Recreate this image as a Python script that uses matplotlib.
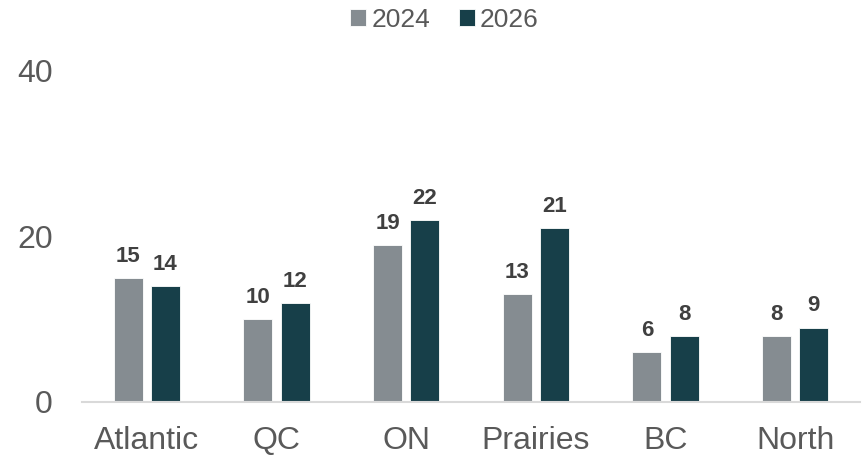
import matplotlib
matplotlib.use("Agg")
import matplotlib.pyplot as plt
import numpy as np

plt.rcParams["font.family"] = ["Liberation Sans", "DejaVu Sans"]

# data
regions = ["Atlantic", "QC", "ON", "Prairies", "BC", "North"]
series_names = ["2024", "2026"]
values_2024 = [15, 10, 19, 13, 6, 8]
values_2026 = [14, 12, 22, 21, 8, 9]

GREY = "#858c91"
TEAL = "#173f49"
TEXT = "#595959"

fig = plt.figure(figsize=(8.63, 4.55), dpi=100)
ax = fig.add_axes([0.095, 0.1165, 0.9015, 0.7275])

x = np.arange(len(regions))
w = 0.224
off = 0.143
b1 = ax.bar(x - off, values_2024, w, color=GREY, edgecolor="white", linewidth=0.6, label=series_names[0])
b2 = ax.bar(x + off, values_2026, w, color=TEAL, edgecolor="white", linewidth=0.6, label=series_names[1])

for bars in (b1, b2):
    ax.bar_label(bars, padding=8, fontsize=16, fontweight="bold", color="#404040")

ax.set_xlim(-0.5, len(regions) - 0.5)
ax.set_ylim(0, 40)
ax.set_yticks([0, 20, 40])
ax.set_xticks(x, regions)
ax.tick_params(axis="y", length=0, pad=21, labelsize=23, labelcolor=TEXT)
ax.tick_params(axis="x", length=0, pad=17, labelsize=23, labelcolor=TEXT)

for s in ("top", "right", "left"):
    ax.spines[s].set_visible(False)
ax.spines["bottom"].set_color("#d9d9d9")
ax.spines["bottom"].set_linewidth(1.5)

fig.legend(loc="upper center", bbox_to_anchor=(0.515, 1.035), ncol=2, frameon=False,
           fontsize=19, labelcolor=TEXT, handlelength=0.6, handleheight=0.6,
           handletextpad=0.2, columnspacing=1.1)

fig.savefig("out.png", dpi=100)
